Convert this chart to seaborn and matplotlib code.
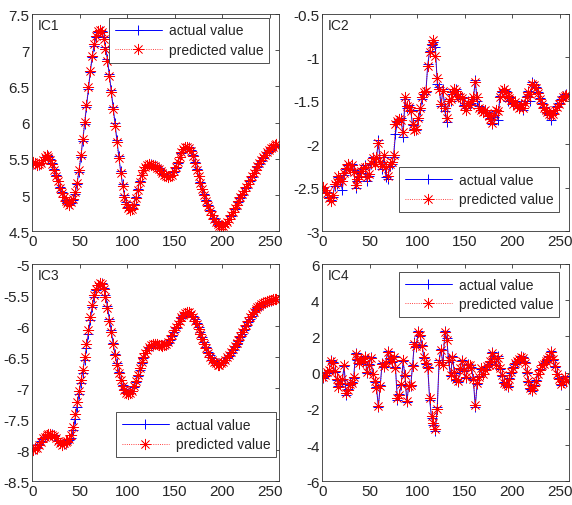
import numpy as np
import matplotlib
matplotlib.use("Agg")
import matplotlib.pyplot as plt
import seaborn as sns
from matplotlib.ticker import FormatStrFormatter

# ==========================================
# 1. data (sample index step 2)
# ==========================================
ic1_actual = [
    5.45, 5.43, 5.42, 5.42, 5.44, 5.48, 5.52, 5.54, 5.54, 5.50,
    5.44, 5.36, 5.28, 5.19, 5.11, 5.04, 4.98, 4.93, 4.90, 4.88,
    4.89, 4.93, 5.02, 5.15, 5.32, 5.52, 5.74, 5.98, 6.22, 6.47,
    6.70, 6.90, 7.06, 7.18, 7.25, 7.28, 7.26, 7.18, 7.05, 6.88,
    6.67, 6.45, 6.22, 5.99, 5.76, 5.54, 5.33, 5.15, 5.00, 4.90,
    4.83, 4.80, 4.82, 4.88, 4.97, 5.08, 5.19, 5.28, 5.35, 5.39,
    5.42, 5.43, 5.43, 5.42, 5.41, 5.39, 5.37, 5.34, 5.31, 5.29,
    5.27, 5.26, 5.26, 5.28, 5.32, 5.38, 5.45, 5.52, 5.58, 5.63,
    5.66, 5.67, 5.66, 5.62, 5.55, 5.46, 5.36, 5.27, 5.18, 5.09,
    5.01, 4.93, 4.86, 4.79, 4.73, 4.68, 4.64, 4.61, 4.59, 4.58,
    4.58, 4.60, 4.63, 4.67, 4.71, 4.76, 4.81, 4.86, 4.91, 4.96,
    5.00, 5.05, 5.10, 5.15, 5.20, 5.25, 5.30, 5.34, 5.39, 5.43,
    5.47, 5.51, 5.55, 5.58, 5.61, 5.64, 5.66, 5.68, 5.69]
ic1_pred = [
    5.46, 5.44, 5.41, 5.43, 5.45, 5.49, 5.53, 5.55, 5.53, 5.49,
    5.43, 5.35, 5.27, 5.20, 5.10, 5.03, 4.97, 4.92, 4.89, 4.87,
    4.90, 4.94, 5.04, 5.17, 5.35, 5.55, 5.77, 6.01, 6.25, 6.49,
    6.72, 6.92, 7.08, 7.20, 7.26, 7.28, 7.25, 7.16, 7.02, 6.85,
    6.64, 6.42, 6.19, 5.96, 5.73, 5.51, 5.31, 5.13, 4.98, 4.88,
    4.82, 4.79, 4.81, 4.87, 4.96, 5.07, 5.18, 5.28, 5.35, 5.39,
    5.42, 5.43, 5.42, 5.42, 5.40, 5.38, 5.36, 5.33, 5.30, 5.28,
    5.26, 5.25, 5.26, 5.28, 5.33, 5.39, 5.46, 5.53, 5.59, 5.64,
    5.66, 5.67, 5.65, 5.61, 5.54, 5.45, 5.35, 5.26, 5.17, 5.08,
    5.00, 4.92, 4.85, 4.78, 4.72, 4.67, 4.63, 4.60, 4.58, 4.57,
    4.58, 4.60, 4.63, 4.67, 4.72, 4.77, 4.82, 4.87, 4.92, 4.97,
    5.01, 5.06, 5.11, 5.16, 5.21, 5.26, 5.31, 5.35, 5.40, 5.44,
    5.48, 5.52, 5.56, 5.59, 5.62, 5.65, 5.67, 5.69, 5.70]

ic2_actual = [
    -2.50, -2.52, -2.55, -2.60, -2.64, -2.60, -2.48, -2.45, -2.38, -2.42,
    -2.52, -2.35, -2.28, -2.24, -2.30, -2.22, -2.30, -2.50, -2.42, -2.38,
    -2.33, -2.28, -2.24, -2.42, -2.36, -2.22, -2.14, -2.20, -2.16, -1.95,
    -2.22, -2.28, -2.14, -2.38, -2.40, -2.25, -2.22, -2.14, -1.88, -1.74,
    -1.72, -1.70, -1.92, -1.48, -1.58, -1.55, -1.60, -1.78, -1.82, -1.84,
    -1.72, -1.60, -1.48, -1.42, -1.40, -1.08, -0.92, -0.86, -0.82, -0.88,
    -1.30, -1.34, -1.56, -1.36, -1.62, -1.74, -1.48, -1.50, -1.42, -1.38,
    -1.36, -1.42, -1.48, -1.45, -1.55, -1.58, -1.50, -1.54, -1.52, -1.48,
    -1.26, -1.50, -1.56, -1.60, -1.62, -1.60, -1.63, -1.66, -1.70, -1.76,
    -1.68, -1.62, -1.72, -1.44, -1.40, -1.37, -1.38, -1.50, -1.46, -1.50,
    -1.52, -1.50, -1.55, -1.57, -1.54, -1.60, -1.50, -1.44, -1.38, -1.50,
    -1.28, -1.30, -1.34, -1.40, -1.47, -1.52, -1.57, -1.60, -1.64, -1.66,
    -1.72, -1.64, -1.60, -1.56, -1.52, -1.48, -1.44, -1.43, -1.42]
ic2_pred = [
    -2.49, -2.53, -2.56, -2.62, -2.65, -2.58, -2.46, -2.43, -2.36, -2.40,
    -2.42, -2.33, -2.27, -2.23, -2.28, -2.24, -2.32, -2.47, -2.40, -2.36,
    -2.31, -2.27, -2.26, -2.38, -2.34, -2.21, -2.16, -2.22, -2.14, -1.98,
    -2.20, -2.25, -2.12, -2.26, -2.36, -2.23, -2.20, -2.12, -1.76, -1.73,
    -1.71, -1.72, -1.86, -1.46, -1.56, -1.57, -1.62, -1.76, -1.84, -1.82,
    -1.70, -1.58, -1.46, -1.40, -1.38, -1.10, -0.94, -0.85, -0.80, -0.98,
    -1.24, -1.36, -1.54, -1.38, -1.58, -1.70, -1.50, -1.48, -1.40, -1.36,
    -1.38, -1.44, -1.46, -1.47, -1.56, -1.60, -1.52, -1.55, -1.50, -1.46,
    -1.28, -1.46, -1.58, -1.61, -1.63, -1.61, -1.64, -1.67, -1.71, -1.75,
    -1.66, -1.60, -1.62, -1.46, -1.39, -1.36, -1.40, -1.44, -1.47, -1.49,
    -1.53, -1.51, -1.56, -1.58, -1.55, -1.58, -1.52, -1.45, -1.40, -1.42,
    -1.30, -1.32, -1.35, -1.41, -1.48, -1.53, -1.58, -1.61, -1.63, -1.65,
    -1.66, -1.65, -1.61, -1.57, -1.53, -1.49, -1.45, -1.44, -1.43]

ic3_actual = [
    -8.00, -7.98, -7.95, -7.90, -7.85, -7.82, -7.79, -7.77, -7.75, -7.74,
    -7.74, -7.76, -7.80, -7.84, -7.88, -7.90, -7.90, -7.88, -7.86, -7.84,
    -7.80, -7.68, -7.50, -7.30, -7.10, -6.92, -6.75, -6.55, -6.35, -6.12,
    -5.90, -5.70, -5.53, -5.42, -5.34, -5.30, -5.31, -5.38, -5.50, -5.68,
    -5.88, -6.07, -6.27, -6.45, -6.60, -6.74, -6.86, -6.95, -7.02, -7.06,
    -7.08, -7.08, -7.05, -6.98, -6.90, -6.80, -6.70, -6.60, -6.51, -6.44,
    -6.39, -6.35, -6.32, -6.30, -6.29, -6.29, -6.30, -6.30, -6.31, -6.31,
    -6.30, -6.27, -6.22, -6.16, -6.09, -6.03, -5.97, -5.92, -5.87, -5.83,
    -5.80, -5.78, -5.78, -5.80, -5.84, -5.89, -5.95, -6.02, -6.10, -6.18,
    -6.26, -6.34, -6.41, -6.47, -6.52, -6.56, -6.59, -6.61, -6.61, -6.60,
    -6.58, -6.55, -6.52, -6.48, -6.44, -6.39, -6.34, -6.29, -6.24, -6.18,
    -6.12, -6.06, -6.00, -5.94, -5.88, -5.83, -5.78, -5.74, -5.71, -5.68,
    -5.66, -5.64, -5.62, -5.61, -5.60, -5.59, -5.58, -5.57, -5.56]
ic3_pred = [
    -7.99, -7.97, -7.96, -7.91, -7.86, -7.81, -7.78, -7.76, -7.74, -7.73,
    -7.75, -7.77, -7.81, -7.85, -7.89, -7.91, -7.89, -7.87, -7.85, -7.82,
    -7.76, -7.62, -7.42, -7.22, -7.04, -6.86, -6.70, -6.50, -6.28, -6.06,
    -5.85, -5.66, -5.50, -5.40, -5.33, -5.30, -5.32, -5.40, -5.53, -5.71,
    -5.91, -6.10, -6.29, -6.47, -6.62, -6.75, -6.87, -6.96, -7.03, -7.07,
    -7.09, -7.08, -7.04, -6.97, -6.88, -6.78, -6.68, -6.58, -6.50, -6.43,
    -6.38, -6.34, -6.31, -6.29, -6.28, -6.29, -6.30, -6.31, -6.32, -6.31,
    -6.29, -6.25, -6.20, -6.14, -6.07, -6.01, -5.96, -5.91, -5.86, -5.82,
    -5.79, -5.77, -5.78, -5.81, -5.85, -5.91, -5.97, -6.04, -6.12, -6.20,
    -6.28, -6.36, -6.43, -6.49, -6.54, -6.57, -6.60, -6.62, -6.62, -6.60,
    -6.57, -6.54, -6.50, -6.46, -6.42, -6.37, -6.32, -6.27, -6.22, -6.16,
    -6.10, -6.04, -5.98, -5.92, -5.86, -5.81, -5.77, -5.73, -5.70, -5.67,
    -5.65, -5.63, -5.61, -5.60, -5.59, -5.58, -5.57, -5.57, -5.56]

ic4_actual = [
    -0.30, -0.20, 0.00, 0.10, 0.70, 0.60, 0.05, -0.40, -0.75, -0.60,
    -0.40, 0.35, -1.25, -0.90, -0.70, -0.50, -0.30, 1.10, 0.70, 0.50,
    0.80, 0.60, 0.90, 0.00, 0.50, 0.85, -0.10, -0.50, -0.80, -1.90,
    -0.70, 0.55, 0.30, 0.60, 1.20, 0.75, 0.60, 0.90, 0.30, -1.50,
    -1.20, -0.70, 0.65, -0.20, -1.60, -0.70, -0.75, 0.40, 1.70, 1.40,
    2.30, 2.00, 1.55, 0.80, 0.50, 0.30, -1.50, -2.50, -2.90, -3.20,
    -1.90, 0.70, 1.30, 0.40, 2.30, 1.90, 0.60, -0.20, 0.90, 0.00,
    -0.40, -0.50, 0.20, 0.70, 0.10, -0.30, 0.50, 0.40, 0.30, -0.40,
    -1.90, -0.60, -0.20, 0.20, -0.10, 0.20, 0.30, 0.50, 0.60, 1.15,
    0.75, 0.40, 0.90, 0.20, -0.20, -0.50, -0.70, -0.80, -0.30, 0.00,
    0.30, 0.50, 0.60, 0.70, 0.90, 0.85, 0.60, 0.00, -0.50, -0.90,
    -1.00, -0.70, -0.40, -0.10, 0.20, 0.40, 0.55, 0.60, 0.70, 0.90,
    1.20, 0.70, 0.30, -0.10, -0.30, -0.70, -0.45, -0.20, -0.50]
ic4_pred = [
    -0.25, -0.15, 0.05, 0.15, 0.65, 0.55, 0.10, -0.35, -0.80, -0.55,
    -0.35, 0.40, -1.10, -0.95, -0.65, -0.55, -0.25, 1.05, 0.75, 0.55,
    0.75, 0.65, 0.85, 0.05, 0.45, 0.80, -0.05, -0.45, -0.85, -1.85,
    -0.75, 0.50, 0.35, 0.55, 1.15, 0.80, 0.65, 0.85, 0.25, -1.40,
    -1.25, -0.65, 0.70, -0.15, -1.55, -0.75, -0.70, 0.35, 1.60, 1.50,
    2.25, 2.10, 1.45, 0.85, 0.55, 0.25, -1.40, -2.40, -2.80, -3.10,
    -2.00, 0.60, 1.25, 0.45, 2.25, 1.80, 0.70, -0.15, 0.85, 0.05,
    -0.35, -0.45, 0.25, 0.65, 0.15, -0.25, 0.45, 0.45, 0.25, -0.35,
    -1.80, -0.55, -0.25, 0.25, -0.05, 0.15, 0.35, 0.45, 0.65, 1.10,
    0.80, 0.45, 0.80, 0.25, -0.15, -0.55, -0.65, -0.75, -0.35, 0.05,
    0.25, 0.55, 0.65, 0.75, 0.85, 0.80, 0.55, 0.05, -0.45, -0.85,
    -0.95, -0.75, -0.45, -0.05, 0.15, 0.45, 0.50, 0.65, 0.75, 0.85,
    1.15, 0.75, 0.35, -0.05, -0.35, -0.65, -0.50, -0.25, -0.45]

idx = np.arange(1, 258, 2)

# ==========================================
# 2. figure
# ==========================================
sns.set_style("white")
plt.rcParams['font.family'] = ['Liberation Sans', 'DejaVu Sans']

fig = plt.figure(figsize=(5.72, 5.06), dpi=100)

panels = [
    ("IC1", ic1_actual, ic1_pred, [0.0565, 0.5409, 0.4318, 0.4294], (4.5, 7.5), 0.5, "upper right", (0.958, 0.982)),
    ("IC2", ic2_actual, ic2_pred, [0.5635, 0.5409, 0.4318, 0.4294], (-3, -0.5), 0.5, "lower right", (0.958, 0.089)),
    ("IC3", ic3_actual, ic3_pred, [0.0565, 0.0468, 0.4318, 0.4294], (-8.5, -5), 0.5, "lower right", (0.987, 0.112)),
    ("IC4", ic4_actual, ic4_pred, [0.5635, 0.0468, 0.4318, 0.4294], (-6, 6), 2, "upper right", (0.958, 0.963)),
]

star = (8, 2, 0)  # matlab-like asterisk

for name, act, pre, pos, ylim, ystep, loc, anchor in panels:
    ax = fig.add_axes(pos)
    sns.lineplot(x=idx, y=act, ax=ax, color="blue", lw=0.7, marker="+",
                 ms=7, mew=0.7, mec="blue", label="actual value")
    sns.lineplot(x=idx, y=pre, ax=ax, color="red", lw=0.6, ls=":", marker=star,
                 ms=8, mew=0.5, mec="red", label="predicted value")

    ax.set_xlim(0, 260)
    ax.set_ylim(*ylim)
    ax.set_xticks(np.arange(0, 251, 50))
    ax.set_yticks(np.arange(ylim[0], ylim[1] + 0.001, ystep))
    ax.yaxis.set_major_formatter(FormatStrFormatter('%g'))
    ax.tick_params(direction="in", top=True, right=True, length=3, width=0.6,
                   labelsize=11, pad=2, color="#333333")
    for sp in ax.spines.values():
        sp.set_color("#333333")
        sp.set_linewidth(0.6)

    ax.text(0.02, 0.95, name, transform=ax.transAxes, ha="left", va="center", fontsize=10)

    leg = ax.legend(loc=loc, bbox_to_anchor=anchor, borderaxespad=0, fontsize=10,
                    fancybox=False, framealpha=1, edgecolor="#333333",
                    handlelength=3.4, handletextpad=0.5, borderpad=0.4, labelspacing=0.4)
    leg.get_frame().set_linewidth(0.6)

fig.savefig("out.png", dpi=100)
